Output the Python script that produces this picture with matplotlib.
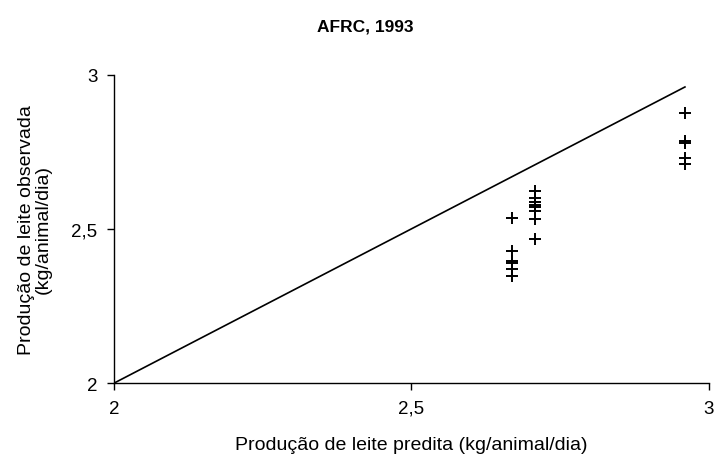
import matplotlib.pyplot as plt
from matplotlib.ticker import FuncFormatter

plt.rcParams["font.family"] = ["Liberation Sans", "DejaVu Sans"]

# predicted vs observed milk production (kg/animal/day)
pred_left = [2.67, 2.67, 2.67, 2.67, 2.67, 2.67]
obs_left = [2.535, 2.429, 2.395, 2.388, 2.370, 2.348]

pred_mid = [2.708, 2.708, 2.708, 2.708, 2.708, 2.708, 2.708, 2.708]
obs_mid = [2.624, 2.599, 2.586, 2.579, 2.572, 2.557, 2.532, 2.467]

pred_right = [2.96, 2.96, 2.96, 2.96, 2.96]
obs_right = [2.875, 2.785, 2.778, 2.73, 2.71]

line_x = [2.0, 2.96]
line_y = [2.0, 2.96]

xticks = [2, 2.5, 3]
yticks = [2, 2.5, 3]


def comma(v, pos):
    s = "%g" % v
    return s.replace(".", ",")


fig = plt.figure(figsize=(7.21, 4.64), dpi=100)
ax = fig.add_axes([0.158, 0.172, 0.825, 0.665])

ax.plot(line_x, line_y, color="black", linewidth=1.2)

px = pred_left + pred_mid + pred_right
py = obs_left + obs_mid + obs_right
ax.plot(px, py, linestyle="none", marker="+", color="black",
        markersize=8.5, markeredgewidth=1.4)

ax.set_xlim(2, 3)
ax.set_ylim(2, 3)
ax.set_xticks(xticks)
ax.set_yticks(yticks)
ax.xaxis.set_major_formatter(FuncFormatter(comma))
ax.yaxis.set_major_formatter(FuncFormatter(comma))

for side in ["top", "right"]:
    ax.spines[side].set_visible(False)
for side in ["left", "bottom"]:
    ax.spines[side].set_linewidth(1.0)

ax.tick_params(direction="out", length=5, width=1.0, labelsize=13.5, pad=7)

ax.set_xlabel("Produção de leite predita (kg/animal/dia)", fontsize=14, labelpad=14)
ax.set_ylabel("Produção de leite observada\n(kg/animal/dia)", fontsize=14,
              labelpad=14, linespacing=1.0)

fig.text(0.507, 0.942, "AFRC, 1993", ha="center", va="center",
         fontsize=12.5, fontweight="bold")

fig.savefig("out.png", dpi=100)
